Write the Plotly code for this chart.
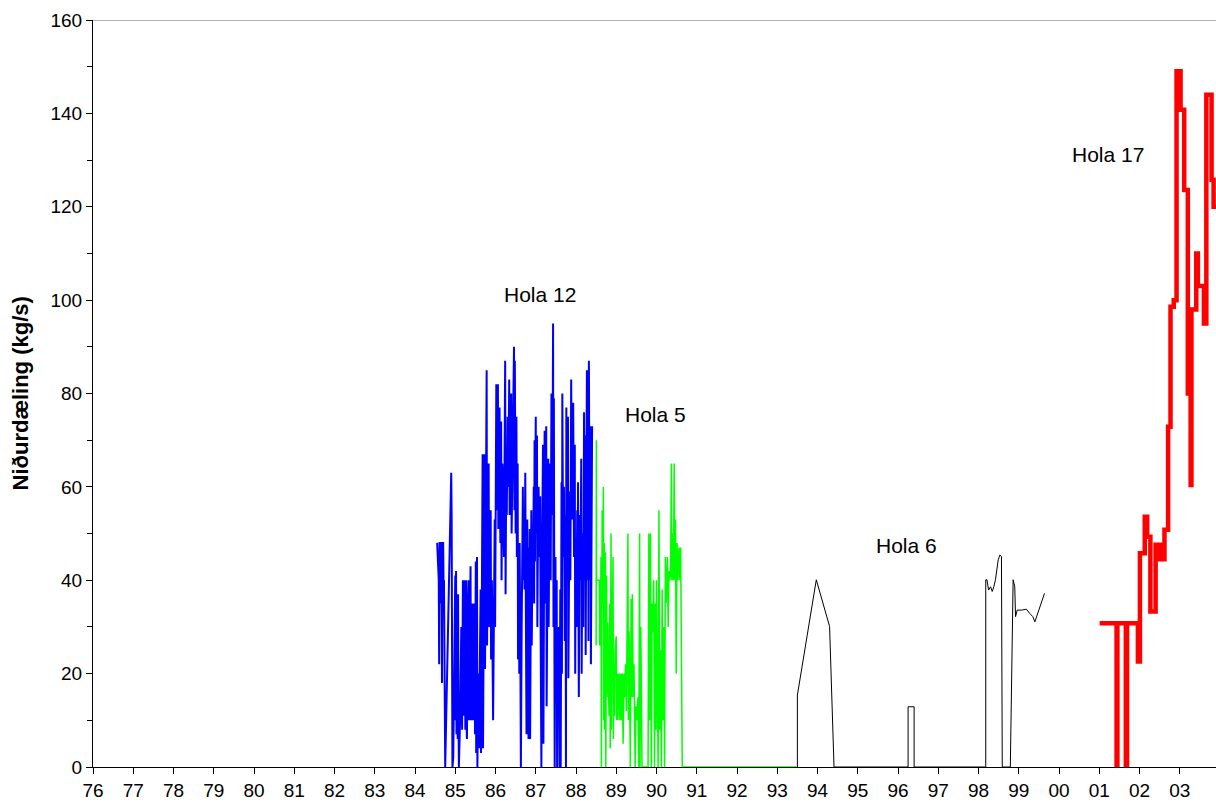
import plotly.graph_objects as go

# ---------------- data (years given as offsets from 1900 for Hola 12/5/6) ----------------
hola12_t = [84.55, 84.59, 84.60, 84.61, 84.63, 84.64, 84.66, 84.67, 84.68, 84.70, 84.71, 84.72, 84.75,
            84.90, 84.91, 84.93, 84.95, 85.00, 85.01, 85.02, 85.03, 85.04, 85.06, 85.07, 85.08, 85.09,
            85.11, 85.12, 85.15, 85.17, 85.19, 85.20, 85.22, 85.24, 85.25, 85.27, 85.28, 85.29, 85.31,
            85.33, 85.34, 85.36, 85.38, 85.39, 85.41, 85.43, 85.44, 85.46, 85.48, 85.49, 85.51, 85.52,
            85.54, 85.55, 85.57, 85.59, 85.61, 85.63, 85.64, 85.66, 85.68, 85.69, 85.71, 85.73, 85.74,
            85.76, 85.78, 85.79, 85.81, 85.83, 85.84, 85.86, 85.88, 85.89, 85.91, 85.94, 85.96, 85.98,
            85.99, 86.00, 86.01, 86.02, 86.04, 86.06, 86.07, 86.09, 86.10, 86.12, 86.14, 86.15, 86.17,
            86.19, 86.21, 86.24, 86.25, 86.27, 86.28, 86.30, 86.32, 86.34, 86.35, 86.37, 86.39, 86.40,
            86.42, 86.44, 86.46, 86.47, 86.48, 86.50, 86.52, 86.53, 86.55, 86.56, 86.58, 86.59, 86.60,
            86.62, 86.63, 86.65, 86.66, 86.68, 86.69, 86.71, 86.72, 86.74, 86.75, 86.77, 86.78, 86.79,
            86.80, 86.81, 86.82, 86.84, 86.85, 86.86, 86.88, 86.89, 86.90, 86.92, 86.93, 86.95, 86.96,
            86.97, 86.98, 87.00, 87.01, 87.03, 87.04, 87.06, 87.07, 87.09, 87.11, 87.12, 87.14, 87.16,
            87.18, 87.19, 87.21, 87.22, 87.23, 87.25, 87.26, 87.27, 87.29, 87.31, 87.32, 87.34, 87.35,
            87.37, 87.39, 87.40, 87.42, 87.43, 87.44, 87.45, 87.47, 87.49, 87.50, 87.52, 87.53, 87.55,
            87.56, 87.58, 87.59, 87.61, 87.62, 87.64, 87.65, 87.66, 87.68, 87.70, 87.72, 87.74, 87.75,
            87.76, 87.77, 87.79, 87.80, 87.81, 87.83, 87.84, 87.86, 87.88, 87.90, 87.91, 87.93, 87.95,
            87.97, 87.98, 87.99, 88.01, 88.03, 88.04, 88.05, 88.07, 88.09, 88.11, 88.13, 88.14, 88.16,
            88.17, 88.18, 88.20, 88.21, 88.23, 88.24, 88.26, 88.27, 88.28, 88.30, 88.31, 88.32, 88.34,
            88.36, 88.37, 88.40]
hola12_v = [48, 40, 22, 48, 48, 35, 42, 18, 48, 48, 38, 40, 0,
            63, 54, 0, 2, 41, 10, 42, 7, 37, 6, 37, 12, 0,
            6, 10, 30, 8, 40, 11, 12, 40, 8, 40, 9, 6, 33,
            40, 10, 28, 43, 10, 30, 35, 10, 25, 35, 7, 44, 3,
            45, 0, 20, 4, 30, 38, 3, 45, 67, 4, 40, 67, 21,
            50, 85, 26, 45, 65, 30, 50, 55, 23, 40, 10, 45, 53,
            30, 74, 37, 82, 55, 82, 51, 70, 77, 48, 74, 40, 65,
            60, 45, 87, 37, 69, 54, 75, 60, 83, 54, 70, 80, 50,
            68, 75, 90, 55, 87, 50, 75, 45, 65, 23, 48, 20, 48,
            20, 0, 30, 39, 60, 40, 55, 38, 63, 40, 7, 45, 53,
            20, 47, 6, 42, 51, 6, 40, 55, 26, 48, 40, 60, 35,
            70, 44, 75, 50, 71, 30, 55, 60, 45, 58, 30, 0, 50,
            69, 5, 45, 72, 35, 60, 73, 13, 50, 66, 30, 55, 65,
            40, 80, 54, 70, 95, 30, 79, 0, 45, 20, 40, 0, 30,
            10, 30, 0, 38, 0, 61, 20, 80, 45, 60, 27, 54, 0,
            77, 40, 60, 75, 19, 45, 59, 40, 83, 53, 65, 78, 45,
            69, 20, 49, 30, 55, 30, 61, 15, 54, 40, 66, 20, 50,
            45, 30, 76, 40, 71, 24, 60, 85, 40, 79, 27, 87, 40,
            73, 22, 73]

hola5_t = [88.50, 88.505, 88.51, 88.58, 88.59, 88.60, 88.61, 88.62, 88.63, 88.65, 88.66, 88.68, 88.69,
           88.70, 88.71, 88.73, 88.74, 88.76, 88.77, 88.79, 88.80, 88.82, 88.84, 88.85, 88.87, 88.88,
           88.90, 88.92, 88.93, 88.94, 88.96, 88.97, 89.00, 89.01, 89.03, 89.04, 89.07, 89.09, 89.11,
           89.13, 89.15, 89.17, 89.19, 89.21, 89.23, 89.25, 89.27, 89.29, 89.30, 89.32, 89.33, 89.35,
           89.37, 89.38, 89.40, 89.42, 89.44, 89.45, 89.47, 89.49, 89.51, 89.54, 89.56, 89.58, 89.59,
           89.61, 89.62, 89.64, 89.70, 89.79, 89.81, 89.83, 89.85, 89.87, 89.89, 89.91, 89.93, 89.95,
           89.97, 89.99, 90.00, 90.02, 90.04, 90.06, 90.08, 90.10, 90.12, 90.14, 90.16, 90.18, 90.20,
           90.22, 90.24, 90.27, 90.29, 90.31, 90.33, 90.35, 90.37, 90.38, 90.40, 90.42, 90.44, 90.45,
           90.47, 90.49, 90.51, 90.53, 90.56, 90.58, 90.60, 90.64, 93.48]
hola5_v = [26, 70, 40, 40, 26, 40, 31, 45, 0, 55, 35, 60, 10,
           48, 8, 46, 0, 41, 15, 31, 20, 11, 35, 4, 50, 8,
           30, 45, 6, 22, 11, 25, 28, 10, 20, 10, 20, 10, 20,
           10, 20, 5, 20, 15, 22, 12, 30, 50, 10, 29, 18, 0,
           36, 15, 37, 15, 22, 5, 0, 13, 10, 15, 0, 50, 0,
           30, 13, 0, 0, 0, 50, 10, 50, 0, 35, 29, 40, 0,
           35, 8, 40, 8, 0, 55, 8, 25, 0, 38, 10, 30, 0,
           45, 35, 45, 30, 42, 40, 42, 65, 40, 50, 40, 65, 40,
           53, 20, 48, 40, 47, 40, 47, 0, 0]

hola6_t = [93.50, 93.50, 93.97, 94.30, 94.41, 96.25, 96.25, 96.40, 96.40, 98.18, 98.18, 98.21, 98.25,
           98.30, 98.34, 98.38, 98.42, 98.46, 98.49, 98.53, 98.57, 98.59, 98.79, 98.86, 98.90, 98.92,
           98.96, 99.07, 99.19, 99.27, 99.35, 99.40, 99.44, 99.64]
hola6_v = [0, 15.4, 40.1, 30.1, 0, 0, 12.9, 12.9, 0, 0, 40.1, 40.1, 37.9,
           38.6, 37.6, 38.6, 40.1, 42.2, 44.4, 45.4, 45.1, 0, 0, 40.1, 38.6, 32.2,
           33.6, 33.6, 33.8, 32.9, 32.2, 31.1, 32.2, 37.2]

hola17_t = [2001.01, 2001.43, 2001.45, 2001.66, 2001.69, 2001.96, 2002.01, 2002.13, 2002.19, 2002.27,
            2002.40, 2002.50, 2002.52, 2002.55, 2002.62, 2002.71, 2002.77, 2002.85, 2002.92, 2003.02,
            2003.11, 2003.20, 2003.27, 2003.29, 2003.41, 2003.45, 2003.60, 2003.66, 2003.79, 2003.84,
            2003.95]
hola17_v = [30.8, 0, 30.8, 0, 30.8, 22.6, 45.8, 53.6, 49.3, 33.3,
            47.6, 44.5, 47.6, 44.5, 50.8, 72.9, 98.6, 100, 149, 140.8,
            123.6, 80, 60.4, 98, 110, 103, 95, 144, 125.8, 120,
            120]

year_ticks = list(range(1976, 2004))
year_labels = [f"{y % 100:02d}" for y in year_ticks]

labels = ["Hola 12", "Hola 5", "Hola 6", "Hola 17"]
label_x = [1987.10, 1989.98, 1996.21, 2001.21]
label_y = [101.1, 75.6, 47.4, 131.1]

# ---------------- figure ----------------
FONT = "Liberation Sans, Arial, sans-serif"
fig = go.Figure()
fig.add_trace(go.Scatter(x=[1900 + t for t in hola12_t], y=hola12_v, mode="lines",
                         line=dict(color="#0000FF", width=2), name="Hola 12"))
fig.add_trace(go.Scatter(x=[1900 + t for t in hola5_t], y=hola5_v, mode="lines",
                         line=dict(color="#00FF00", width=1.5), name="Hola 5"))
fig.add_trace(go.Scatter(x=[1900 + t for t in hola6_t], y=hola6_v, mode="lines",
                         line=dict(color="#000000", width=1), name="Hola 6"))
fig.add_trace(go.Scatter(x=hola17_t, y=hola17_v, mode="lines", line_shape="hv",
                         line=dict(color="#FF0000", width=4.5), name="Hola 17"))

for txt, lx, ly in zip(labels, label_x, label_y):
    fig.add_annotation(x=lx, y=ly, text=txt, showarrow=False, xref="x", yref="y",
                       font=dict(family=FONT, size=21, color="black"))

fig.add_annotation(x=0, y=0.5, xref="paper", yref="paper", text="<b>Niðurdæling (kg/s)</b>",
                   textangle=-90, showarrow=False, xanchor="center", yanchor="middle", xshift=-73,
                   font=dict(family=FONT, size=22, color="black"))

fig.add_shape(type="line", xref="paper", yref="y", x0=0, x1=1, y0=160, y1=160,
              line=dict(color="#999999", width=1.5))

fig.update_layout(
    width=1216, height=811,
    margin=dict(l=93, r=0, t=20, b=44),
    paper_bgcolor="white", plot_bgcolor="white",
    showlegend=False,
    font=dict(family=FONT, size=19, color="black"),
    xaxis=dict(range=[1976, 2003.9], tickmode="array", tickvals=year_ticks, ticktext=year_labels,
               showline=True, linecolor="black", linewidth=1, ticks="outside", ticklen=6,
               tickcolor="black", showgrid=False, zeroline=False, layer="below traces",
               tickfont=dict(family=FONT, size=19)),
    yaxis=dict(range=[0, 160], tickmode="linear", tick0=0, dtick=20,
               showline=True, linecolor="black", linewidth=1, ticks="outside", ticklen=6,
               tickcolor="black", showgrid=False, zeroline=False,
               minor=dict(dtick=10, ticks="outside", ticklen=5, tickcolor="black"),
               tickfont=dict(family=FONT, size=19)),
)

fig.write_html("out.html")
